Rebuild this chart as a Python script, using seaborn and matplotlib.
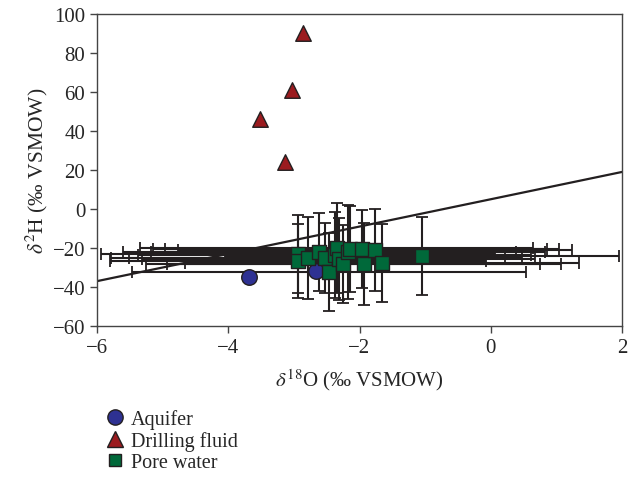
import numpy as np
import pandas as pd
import seaborn as sns
import matplotlib.pyplot as plt
from matplotlib.lines import Line2D

sns.set_style("ticks")
plt.rcParams['font.family'] = ['Liberation Serif', 'DejaVu Serif']
plt.rcParams['mathtext.fontset'] = 'stix'

# data
aquifer_o = [-3.68, -2.66]
aquifer_h = [-35.0, -31.6]

drilling_o = [-2.86, -3.03, -3.52, -3.13]
drilling_h = [90.5, 61.0, 46.0, 24.0]

pore_o = [-2.94, -2.94, -2.78, -2.61, -2.52, -2.47, -2.38, -2.35, -2.32,
          -2.25, -2.17, -2.15, -1.96, -1.93, -1.76, -1.66, -1.05]
pore_h = [-23.0, -26.5, -25.3, -22.1, -25.0, -32.3, -23.5, -19.9, -25.8,
          -28.4, -22.1, -20.5, -20.3, -28.4, -21.0, -27.6, -24.3]
pore_o_err = [3.0, 2.86, 3.0, 3.0, 3.0, 3.0, 3.0, 3.0, 3.0,
              3.0, 3.0, 3.0, 3.0, 3.0, 3.0, 3.0, 3.0]
pore_h_err = [20.0, 19.0, 21.0, 20.0, 18.0, 20.0, 22.0, 23.0, 21.0,
              20.0, 24.0, 22.0, 20.0, 21.0, 21.0, 20.0, 20.0]

# meteoric water line
lmwl_slope = 7.0
lmwl_intercept = 5.0

df = pd.DataFrame({
    "d18O": aquifer_o + drilling_o + pore_o,
    "d2H": aquifer_h + drilling_h + pore_h,
    "group": ["Aquifer"] * len(aquifer_o) + ["Drilling fluid"] * len(drilling_o)
             + ["Pore water"] * len(pore_o),
})

colors = {"Aquifer": "#2e3192", "Drilling fluid": "#9b1b1f", "Pore water": "#00693a"}
markers = {"Aquifer": "o", "Drilling fluid": "^", "Pore water": "s"}
sizes = {"Aquifer": 125, "Drilling fluid": 125, "Pore water": 105}

fig = plt.figure(figsize=(6.37, 4.89), dpi=100)
ax = fig.add_axes([97 / 637, 1 - 327 / 489, 525 / 637, 312 / 489])

ax.errorbar(pore_o, pore_h, xerr=pore_o_err, yerr=pore_h_err, fmt="none",
            ecolor="#231f20", elinewidth=1.5, capsize=4, capthick=1.3, zorder=1)

ax.axline((0, lmwl_intercept), slope=lmwl_slope, color="#231f20", lw=1.6, zorder=2)

for g in ["Aquifer", "Drilling fluid", "Pore water"]:
    sub = df[df["group"] == g]
    sns.scatterplot(data=sub, x="d18O", y="d2H", ax=ax, marker=markers[g],
                    color=colors[g], s=sizes[g], edgecolor="#231f20",
                    linewidth=1.0, zorder=3, legend=False)

ax.set_xlim(-6, 2)
ax.set_ylim(-60, 100)
ax.set_xticks([-6, -4, -2, 0, 2])
ax.set_yticks(np.arange(-60, 101, 20))
ax.tick_params(labelsize=15, direction="out", length=5, width=1, color="#444444")
for sp in ax.spines.values():
    sp.set_color("#444444")
    sp.set_linewidth(1.0)

ax.set_xlabel(r"$\delta^{18}$O (‰ VSMOW)", fontsize=15, labelpad=7)
ax.set_ylabel(r"$\delta^{2}$H (‰ VSMOW)", fontsize=15.5, labelpad=2)

handles = [Line2D([], [], linestyle="none", marker=markers[g], markersize=11 if g != "Pore water" else 9,
                  markerfacecolor=colors[g], markeredgecolor="#231f20", markeredgewidth=1.0, label=g)
           for g in ["Aquifer", "Drilling fluid", "Pore water"]]
fig.legend(handles=handles, loc="upper left", bbox_to_anchor=(95 / 637, 1 - 402 / 489),
           frameon=False, fontsize=14.5, handletextpad=0.2, labelspacing=0.1,
           borderaxespad=0, handlelength=1.2)

fig.savefig("out.png", dpi=100)
